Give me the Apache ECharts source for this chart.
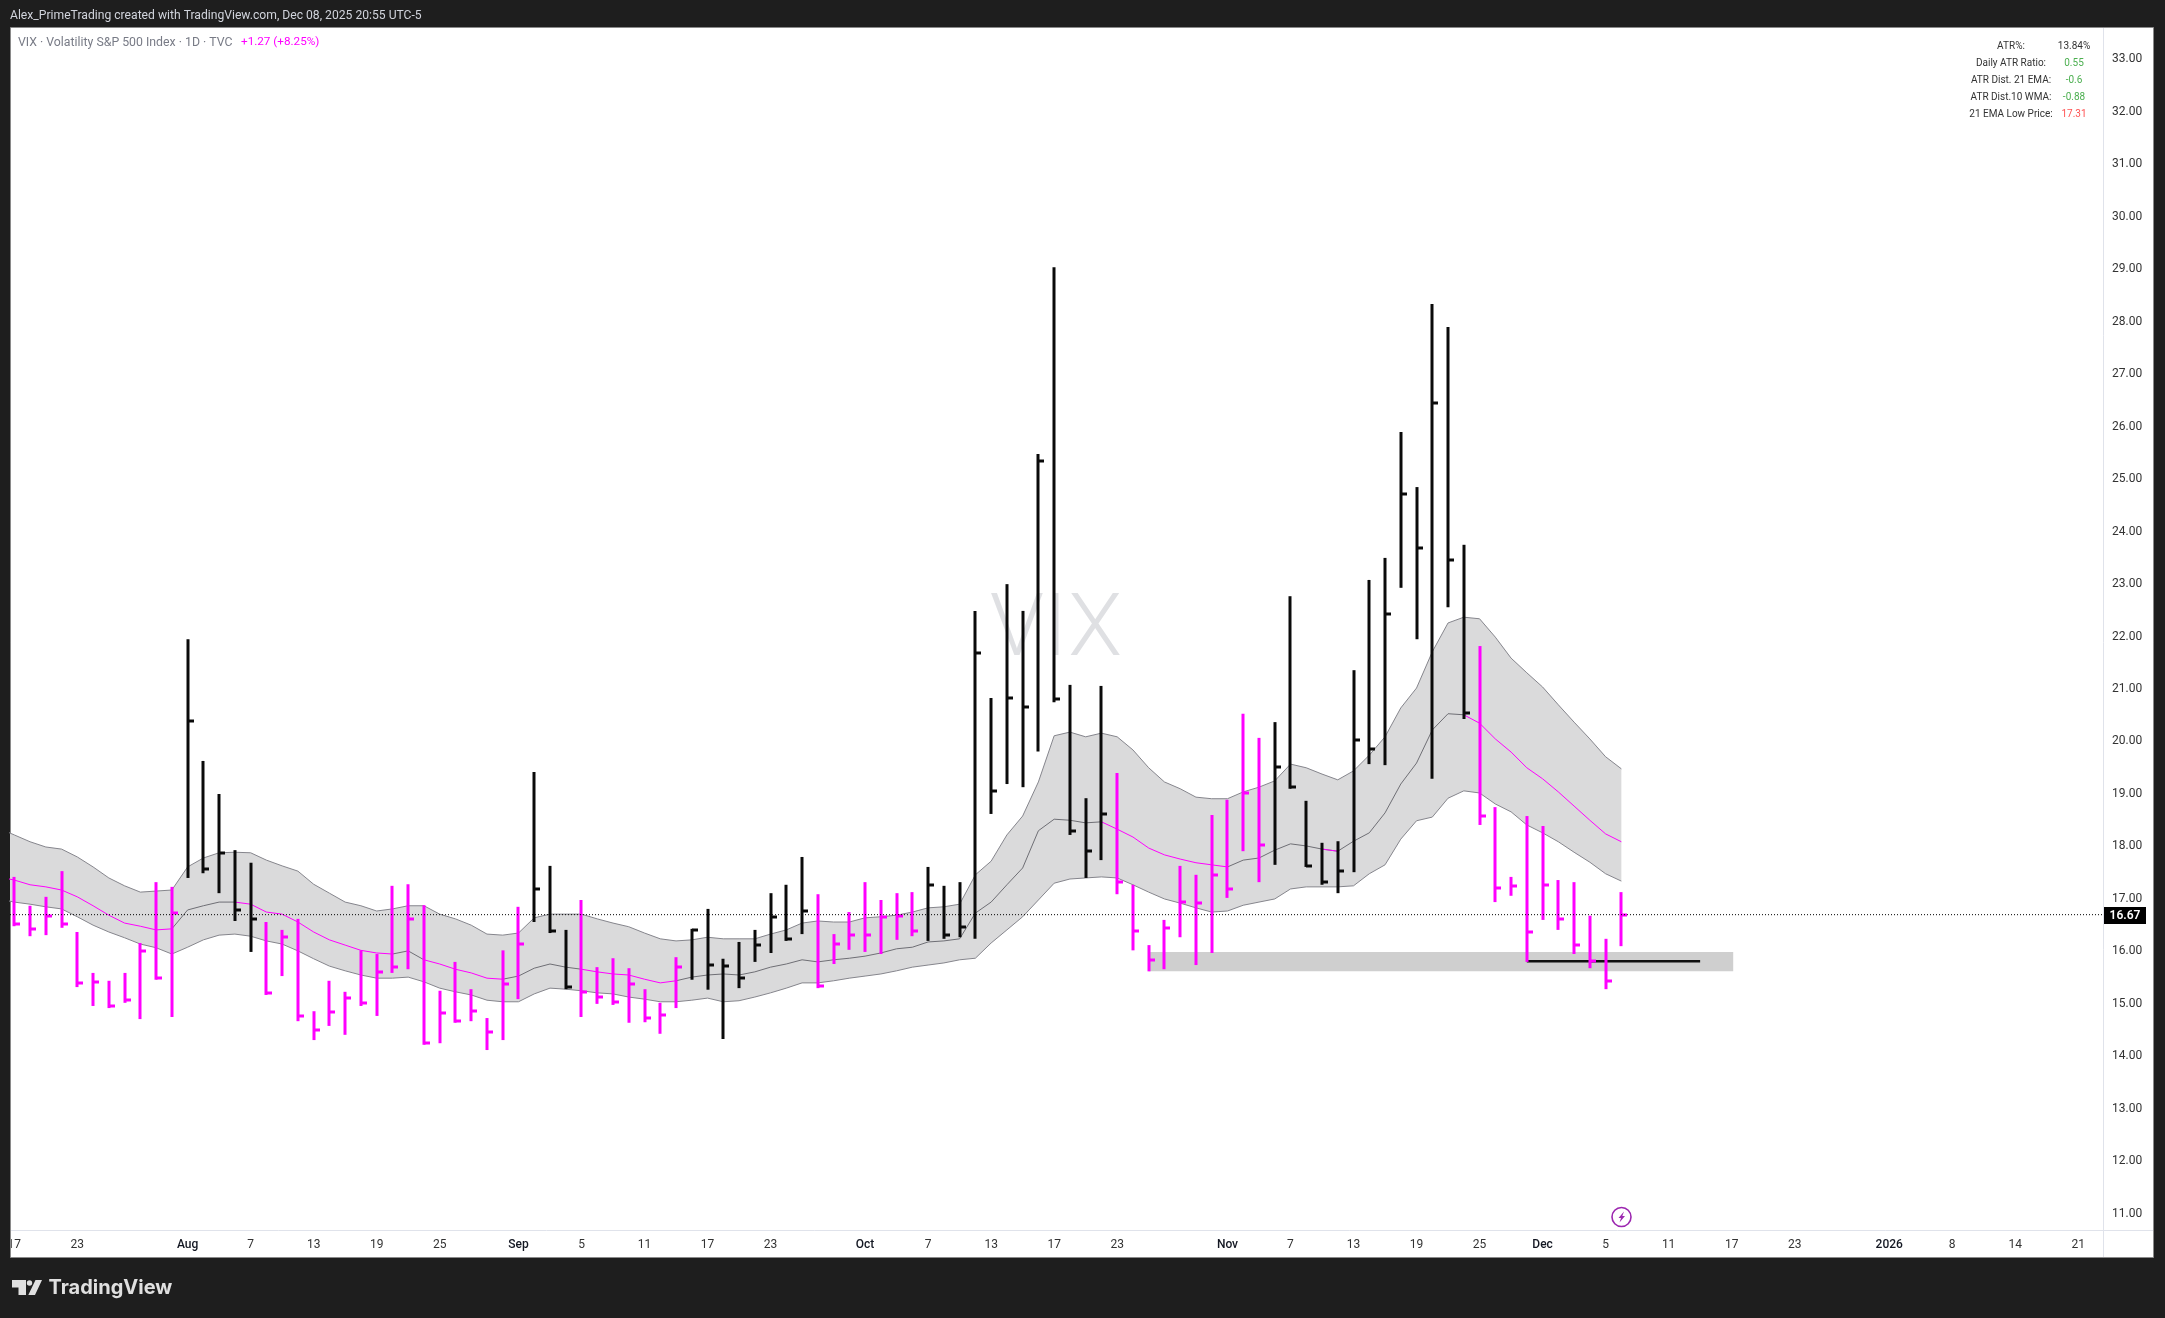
<!DOCTYPE html>
<html>
<head>
<meta charset="utf-8">
<title>VIX</title>
<script src="https://cdn.jsdelivr.net/npm/echarts@6/dist/echarts.min.js"></script>
<style>html,body{margin:0;padding:0;background:#1e1e1e}#c{width:2165px;height:1318px}</style>
</head>
<body>
<div id="c"></div>
<script>
const highs = [17.39,16.84,17.01,17.50,16.34,15.56,15.41,15.56,16.13,17.29,17.20,21.92,19.60,18.97,17.90,17.66,16.53,16.38,16.59,14.83,15.41,15.20,15.99,15.92,17.22,17.25,16.85,15.22,15.77,15.25,14.70,15.99,16.82,19.39,17.60,16.38,16.95,15.67,15.84,15.65,15.25,14.99,15.86,16.40,16.78,15.83,16.15,16.38,17.08,17.24,17.77,17.06,16.30,16.72,17.29,16.95,17.08,17.10,17.58,17.22,17.29,22.46,20.80,22.97,22.46,25.45,29.01,21.05,18.89,21.03,19.37,17.24,16.09,16.57,17.60,17.43,18.57,18.86,20.50,20.04,20.34,22.74,18.84,18.04,18.07,21.33,23.05,23.47,25.87,24.82,28.31,27.87,23.72,21.79,18.72,17.39,18.55,18.36,17.33,17.29,16.65,16.21,17.10];
const lows = [16.45,16.26,16.28,16.42,15.29,14.93,14.89,14.99,14.68,15.43,14.72,17.37,17.46,17.08,16.55,15.96,15.14,15.50,14.64,14.28,14.55,14.38,14.93,14.74,15.56,15.63,14.19,14.22,14.61,14.64,14.09,14.28,15.06,16.53,16.32,15.25,14.72,14.97,14.95,14.61,14.62,14.40,14.89,15.43,15.24,14.30,15.27,15.77,15.94,16.17,16.30,15.27,15.73,16.00,15.96,15.92,16.19,16.26,16.17,16.21,16.24,16.21,18.59,19.16,19.10,19.78,20.72,18.19,17.37,17.71,17.06,15.99,15.59,15.63,16.24,15.71,15.94,16.99,17.88,17.29,17.62,19.07,17.58,17.24,17.08,17.48,19.54,19.52,22.90,21.92,19.26,22.53,20.40,18.38,16.91,17.03,15.77,16.57,16.38,15.92,15.65,15.25,16.07];
const closes = [16.49,16.40,16.65,16.49,15.37,15.39,14.93,15.04,15.98,15.46,16.70,20.36,17.54,17.85,16.76,16.59,15.18,16.24,14.74,14.47,14.82,15.08,14.99,15.58,15.67,16.59,14.22,14.80,14.64,14.83,14.43,15.35,16.11,17.16,16.36,15.29,15.20,15.10,15.01,15.35,14.70,14.76,15.67,16.38,15.71,15.69,15.46,16.09,16.63,16.21,16.74,15.31,16.11,16.28,16.28,16.63,16.65,16.36,17.24,16.28,16.44,21.66,19.03,20.80,20.63,25.32,20.78,18.27,17.88,18.59,17.29,16.36,15.81,16.42,16.91,16.89,17.43,17.16,18.99,18.00,19.48,19.10,17.60,17.29,17.50,20.00,19.83,22.40,24.69,23.66,26.42,23.43,20.51,18.55,17.18,17.22,16.34,17.24,16.59,16.09,15.79,15.41,16.67];
// bars drawn black (all others are magenta)
const blackBarRuns = [[11,15],[33,35],[43,50],[58,69],[80,92]];
// band values start one session before the first bar
const bandUpper = [18.32,18.19,18.06,17.96,17.92,17.77,17.58,17.37,17.22,17.10,17.12,17.14,17.58,17.75,17.85,17.86,17.85,17.71,17.60,17.50,17.25,17.08,16.91,16.84,16.74,16.78,16.84,16.84,16.68,16.59,16.47,16.30,16.28,16.32,16.61,16.68,16.68,16.68,16.59,16.51,16.44,16.32,16.21,16.17,16.19,16.24,16.21,16.21,16.21,16.30,16.38,16.51,16.55,16.53,16.53,16.61,16.63,16.66,16.72,16.80,16.82,16.87,17.43,17.69,18.19,18.55,19.20,20.08,20.15,20.06,20.13,20.06,19.81,19.47,19.20,19.07,18.91,18.88,18.88,19.01,19.10,19.22,19.54,19.47,19.35,19.24,19.41,19.71,20.06,20.61,20.99,21.68,22.23,22.34,22.31,21.96,21.56,21.28,21.01,20.67,20.34,20.02,19.68,19.45];
const bandMid = [17.39,17.33,17.24,17.20,17.14,17.01,16.84,16.66,16.51,16.45,16.38,16.40,16.76,16.84,16.91,16.91,16.87,16.72,16.68,16.53,16.34,16.19,16.09,15.99,15.94,15.92,15.98,15.81,15.73,15.63,15.56,15.46,15.44,15.50,15.65,15.73,15.67,15.63,15.58,15.54,15.52,15.44,15.37,15.41,15.48,15.52,15.54,15.52,15.58,15.67,15.73,15.81,15.77,15.81,15.84,15.88,15.94,16.02,16.05,16.15,16.17,16.21,16.70,16.91,17.24,17.56,18.27,18.49,18.47,18.42,18.44,18.30,18.15,17.94,17.81,17.73,17.66,17.62,17.58,17.71,17.75,17.90,18.02,17.98,17.92,17.88,18.07,18.23,18.61,19.16,19.56,20.19,20.50,20.48,20.32,20.02,19.77,19.47,19.26,19.01,18.74,18.47,18.21,18.06];
const bandLower = [16.97,16.91,16.87,16.82,16.78,16.63,16.47,16.34,16.23,16.11,16.04,15.92,16.05,16.19,16.28,16.30,16.26,16.17,16.11,15.98,15.83,15.69,15.60,15.52,15.46,15.46,15.48,15.39,15.27,15.20,15.14,15.04,15.01,15.01,15.16,15.27,15.25,15.22,15.18,15.16,15.10,15.06,15.01,15.01,15.04,15.08,15.01,15.03,15.10,15.18,15.27,15.37,15.37,15.41,15.46,15.50,15.54,15.60,15.67,15.71,15.75,15.81,15.84,16.13,16.38,16.63,16.95,17.27,17.35,17.37,17.39,17.37,17.24,17.10,16.97,16.89,16.80,16.72,16.74,16.85,16.91,16.97,17.16,17.20,17.20,17.20,17.22,17.45,17.62,18.11,18.46,18.53,18.89,19.03,18.99,18.78,18.63,18.38,18.23,18.06,17.86,17.67,17.45,17.31];
// stretches of the mid line drawn magenta
const midFallingRuns = [[-1,10],[14,24],[26,31],[36,42],[69,77],[83,84],[92,102]];

const xTickIndex = [0,4,11,15,19,23,27,32,36,40,44,48,54,58,62,66,70,77,81,85,89,93,97,101,105,109,113,119,123,127,131];
const xTickLabels = ['17','23','Aug','7','13','19','25','Sep','5','11','17','23','Oct','7','13','17','23','Nov','7','13','19','25','Dec','5','11','17','23','2026','8','14','21'];
const yTicks = [11,12,13,14,15,16,17,18,19,20,21,22,23,24,25,26,27,28,29,30,31,32,33];

const lastPrice = 16.67;
const zoneStart = 72, zoneEnd = 109.1, zoneTop = 15.96, zoneBottom = 15.59;
const levelStart = 96, levelEnd = 107, levelPrice = 15.78;
const statLabels = ['ATR%:','Daily ATR Ratio:','ATR Dist. 21 EMA:','ATR Dist.10 WMA:','21 EMA Low Price:'];
const statValues = ['13.84%','0.55','-0.6','-0.88','17.31'];
const statColors = ['#333333','#4caf50','#4caf50','#4caf50','#ff5252'];

const FONT = 'Roboto, sans-serif';
const MAGENTA = '#ff00ff', BLACK = '#0a0a0a';
const xMin = -0.273, xMax = 132.57, yMin = 10.66, yMax = 33.57;

const isBlack = i => blackBarRuns.some(r => i >= r[0] && i <= r[1]);
const barData = highs.map((h, i) => [i, h, lows[i], closes[i], isBlack(i) ? 1 : 0]);
const pairs = arr => arr.map((v, i) => [i - 1, v]);
const midMagenta = bandMid.map((v, i) => {
  const x = i - 1;
  return [x, midFallingRuns.some(r => x >= r[0] && x <= r[1]) ? v : null];
});
const midPlain = bandMid.map((v, i) => {
  const x = i - 1;
  return [x, midFallingRuns.some(r => x > r[0] && x < r[1]) || x === -1 ? null : v];
});

function renderBand(params, api) {
  const pts = [];
  bandUpper.forEach((v, i) => pts.push(api.coord([i - 1, v])));
  for (let i = bandLower.length - 1; i >= 0; i--) pts.push(api.coord([i - 1, bandLower[i]]));
  return { type: 'polygon', shape: { points: pts }, style: { fill: '#dadadb' }, silent: true };
}
function renderZone(params, api) {
  const a = api.coord([zoneStart, zoneTop]), b = api.coord([zoneEnd, zoneBottom]);
  return { type: 'rect', shape: { x: a[0], y: a[1], width: b[0] - a[0], height: b[1] - a[1] }, style: { fill: '#cfcfcf' }, silent: true };
}
function renderBar(params, api) {
  const x = Math.round(api.coord([api.value(0), 0])[0]);
  const hi = api.coord([0, api.value(1)])[1], lo = api.coord([0, api.value(2)])[1], cl = api.coord([0, api.value(3)])[1];
  const fill = api.value(4) ? BLACK : MAGENTA;
  return { type: 'group', children: [
    { type: 'rect', shape: { x: x - 1.5, y: hi, width: 3, height: lo - hi }, style: { fill } },
    { type: 'rect', shape: { x: x, y: Math.round(cl) - 1.5, width: 6, height: 3 }, style: { fill } }
  ] };
}
function renderLast(params, api) {
  const c = api.coord([api.value(0), api.value(1)]);
  return { type: 'group', children: [
    { type: 'rect', shape: { x: c[0] + 1, y: Math.round(c[1]) - 8, width: 42, height: 17 }, style: { fill: '#000000' } },
    { type: 'text', style: { x: c[0] + 22, y: Math.round(c[1]) + 1, text: lastPrice.toFixed(2), fill: '#ffffff', font: '600 12px ' + FONT, align: 'center', verticalAlign: 'middle' } }
  ] };
}

const txt = (x, y, text, fill, size, align) => ({ type: 'text', z: 120, silent: true,
  style: { x, y, text, fill, font: size + 'px ' + FONT, verticalAlign: 'middle', align: align || 'left' } });

const graphic = [
  // white panel and frame
  { type: 'rect', z: -10, silent: true, shape: { x: 10.5, y: 27.5, width: 2143, height: 1230 }, style: { fill: '#ffffff', stroke: '#8a8a8a', lineWidth: 1 } },
  // dark strip that cuts off the first time label
  { type: 'rect', z: 100, silent: true, shape: { x: 0, y: 1231, width: 10, height: 26 }, style: { fill: '#1e1e1e' } },
  { type: 'line', z: 101, silent: true, shape: { x1: 10.5, y1: 1231, x2: 10.5, y2: 1257 }, style: { stroke: '#8a8a8a', lineWidth: 1 } },
  // axis dividers
  { type: 'line', z: 1, silent: true, shape: { x1: 11, y1: 1230.5, x2: 2153, y2: 1230.5 }, style: { stroke: '#e0e3eb', lineWidth: 1 } },
  { type: 'line', z: 1, silent: true, shape: { x1: 2103.5, y1: 28, x2: 2103.5, y2: 1257 }, style: { stroke: '#e0e3eb', lineWidth: 1 } },
  // watermark
  { type: 'text', z: -5, silent: true, style: { x: 1056, y: 633, text: 'VIX', fill: '#dfe0e3', font: '300 88px ' + FONT, align: 'center', verticalAlign: 'middle' } },
  // captions
  txt(10, 15.5, 'Alex_PrimeTrading created with TradingView.com, Dec 08, 2025 20:55 UTC-5', '#d1d4dc', 12.15),
  txt(18, 42.5, 'VIX · Volatility S&P 500 Index · 1D · TVC', '#787b86', 12.3),
  txt(241, 42.5, '+1.27 (+8.25%)', MAGENTA, 11.7),
  // TradingView mark
  { type: 'polygon', z: 120, silent: true, shape: { points: [[12,1280],[26,1280],[26,1295],[18.5,1295],[18.5,1287.5],[12,1287.5]] }, style: { fill: '#e0e0e0' } },
  { type: 'circle', z: 120, silent: true, shape: { cx: 29.5, cy: 1283, r: 2.7 }, style: { fill: '#e0e0e0' } },
  { type: 'polygon', z: 120, silent: true, shape: { points: [[35.5,1280],[42,1280],[35,1295],[28.3,1295]] }, style: { fill: '#e0e0e0' } },
  { type: 'text', z: 120, silent: true, style: { x: 48.5, y: 1288, text: 'TradingView', fill: '#e0e0e0', font: '700 20px Inter, sans-serif', verticalAlign: 'middle' } },
  // lightning marker
  { type: 'circle', z: 60, silent: true, shape: { cx: 1621.5, cy: 1217, r: 9.5 }, style: { fill: 'none', stroke: '#9c27b0', lineWidth: 1.6 } },
  { type: 'polygon', z: 60, silent: true, shape: { points: [[1624,1211.5],[1618.5,1218],[1621,1218],[1619.5,1222.5],[1625,1216],[1622.3,1216]] }, style: { fill: '#9c27b0' } }
];
statLabels.forEach((s, i) => {
  const y = 46.5 + i * 17.1;
  graphic.push(txt(2011, y, s, '#333333', 10, 'center'));
  graphic.push(txt(2074, y, statValues[i], statColors[i], 10, 'center'));
});

const chart = echarts.init(document.getElementById('c'), null, { renderer: 'canvas' });
const thinLine = (name, data, color, z) => ({ name, type: 'line', data, showSymbol: false, symbol: 'none', z, silent: true, lineStyle: { color, width: 1 }, connectNulls: false });

chart.setOption({
  animation: false,
  backgroundColor: '#1e1e1e',
  grid: { left: 10, right: 62, top: 28, bottom: 88, containLabel: false },
  tooltip: { show: false },
  xAxis: {
    type: 'value', min: xMin, max: xMax, splitLine: { show: false },
    axisLine: { show: false }, axisTick: { show: false },
    axisLabel: {
      customValues: xTickIndex, margin: 9,
      color: '#333333', fontFamily: FONT, fontSize: 12,
      formatter: v => {
        const s = xTickLabels[xTickIndex.indexOf(v)];
        return /[A-Za-z]|2026/.test(s) ? '{m|' + s + '}' : s;
      },
      rich: { m: { color: '#131722', fontFamily: FONT, fontSize: 12, fontWeight: 500 } }
    }
  },
  yAxis: {
    type: 'value', position: 'right', min: yMin, max: yMax, splitLine: { show: false },
    axisLine: { show: false }, axisTick: { show: false },
    axisLabel: {
      customValues: yTicks, margin: 9, color: '#333333', fontFamily: FONT, fontSize: 12,
      formatter: v => '{p|' + v.toFixed(2) + '}',
      rich: { p: { color: '#333333', fontFamily: FONT, fontSize: 12, padding: [3, 0, 0, 0] } }
    }
  },
  graphic,
  series: [
    { name: 'band', type: 'custom', coordinateSystem: 'cartesian2d', data: [[0, 17]], encode: { x: 0, y: 1 }, renderItem: renderBand, clip: true, z: 1, silent: true },
    { name: 'zone', type: 'custom', coordinateSystem: 'cartesian2d', data: [[zoneStart, zoneTop]], encode: { x: 0, y: 1 }, renderItem: renderZone, clip: true, z: 1, silent: true },
    thinLine('upper', pairs(bandUpper), '#85858c', 2),
    thinLine('lower', pairs(bandLower), '#85858c', 2),
    thinLine('mid', midPlain, '#6f6f75', 2),
    thinLine('midFalling', midMagenta, MAGENTA, 3),
    { name: 'level', type: 'line', data: [[levelStart, levelPrice], [levelEnd, levelPrice]], showSymbol: false, symbol: 'none', z: 3, silent: true, lineStyle: { color: '#111111', width: 2.5, cap: 'butt' } },
    { name: 'bars', type: 'custom', coordinateSystem: 'cartesian2d', data: barData, encode: { x: 0, y: [1, 2, 3] }, dimensions: ['i', 'high', 'low', 'close', 'black'], renderItem: renderBar, clip: true, z: 4, silent: true },
    { name: 'last', type: 'line', data: [[xMin, lastPrice], [xMax, lastPrice]], showSymbol: false, symbol: 'none', z: 5, silent: true, lineStyle: { color: '#000000', width: 1, type: [1, 2] } },
    { name: 'lastLabel', type: 'custom', coordinateSystem: 'cartesian2d', data: [[xMax, lastPrice]], encode: { x: 0, y: 1 }, renderItem: renderLast, clip: false, z: 6, silent: true }
  ]
});
</script>
</body>
</html>
